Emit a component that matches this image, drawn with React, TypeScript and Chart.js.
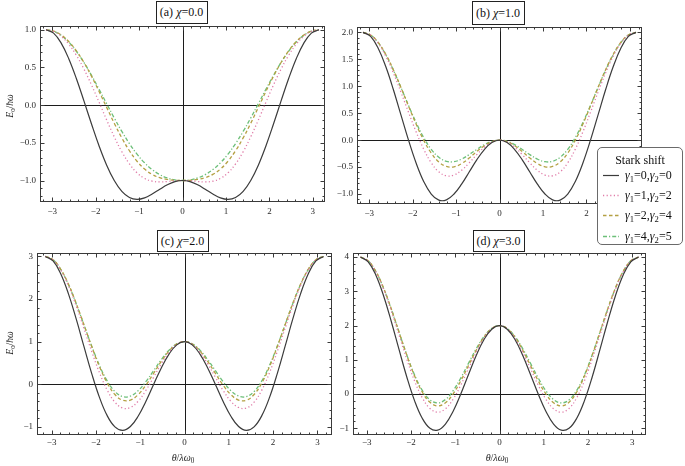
import React, { useEffect, useRef } from 'react';
import { Chart, registerables } from 'chart.js';

Chart.register(...registerables);

// theta / (lambda omega_0), sampled every 10 degrees from -pi to pi
const THETA = [-3.1416, -2.9671, -2.7925, -2.618, -2.4435, -2.2689, -2.0944, -1.9199, -1.7453, -1.5708, -1.3963, -1.2217, -1.0472, -0.8727, -0.6981, -0.5236, -0.3491, -0.1745, 0, 0.1745, 0.3491, 0.5236, 0.6981, 0.8727, 1.0472, 1.2217, 1.3963, 1.5708, 1.7453, 1.9199, 2.0944, 2.2689, 2.4435, 2.618, 2.7925, 2.9671, 3.1416];

const X_TICKS = [-3, -2, -1, 0, 1, 2, 3];

// (a) chi = 0.0
const A_G00 = [1.0, 0.955, 0.823, 0.616, 0.353, 0.056, -0.25, -0.541, -0.796, -1.0, -1.144, -1.225, -1.25, -1.23, -1.179, -1.116, -1.057, -1.015, -1.0, -1.015, -1.057, -1.116, -1.179, -1.23, -1.25, -1.225, -1.144, -1.0, -0.796, -0.541, -0.25, 0.056, 0.353, 0.616, 0.823, 0.955, 1.0];
const A_G12 = [1.0, 0.979, 0.915, 0.809, 0.662, 0.479, 0.268, 0.038, -0.197, -0.42, -0.618, -0.779, -0.898, -0.972, -1.009, -1.019, -1.013, -1.004, -1.0, -1.004, -1.013, -1.019, -1.009, -0.972, -0.898, -0.779, -0.618, -0.42, -0.197, 0.038, 0.268, 0.479, 0.662, 0.809, 0.915, 0.979, 1.0];
const A_G24 = [1.0, 0.983, 0.93, 0.843, 0.721, 0.566, 0.384, 0.181, -0.03, -0.24, -0.435, -0.605, -0.744, -0.848, -0.919, -0.963, -0.986, -0.997, -1.0, -0.997, -0.986, -0.963, -0.919, -0.848, -0.744, -0.605, -0.435, -0.24, -0.03, 0.181, 0.384, 0.566, 0.721, 0.843, 0.93, 0.983, 1.0];
const A_G45 = [1.0, 0.981, 0.926, 0.837, 0.715, 0.566, 0.395, 0.21, 0.019, -0.17, -0.349, -0.51, -0.65, -0.765, -0.855, -0.922, -0.966, -0.992, -1.0, -0.992, -0.966, -0.922, -0.855, -0.765, -0.65, -0.51, -0.349, -0.17, 0.019, 0.21, 0.395, 0.566, 0.715, 0.837, 0.926, 0.981, 1.0];

// (b) chi = 1.0
const B_G00 = [2.0, 1.925, 1.706, 1.366, 0.94, 0.469, 0.0, -0.424, -0.766, -1.0, -1.113, -1.108, -1.0, -0.816, -0.592, -0.366, -0.174, -0.045, 0.0, -0.045, -0.174, -0.366, -0.592, -0.816, -1.0, -1.108, -1.113, -1.0, -0.766, -0.424, 0.0, 0.469, 0.94, 1.366, 1.706, 1.925, 2.0];
const B_G12 = [2.0, 1.949, 1.798, 1.559, 1.249, 0.892, 0.518, 0.155, -0.166, -0.42, -0.588, -0.662, -0.648, -0.559, -0.422, -0.269, -0.13, -0.034, 0.0, -0.034, -0.13, -0.269, -0.422, -0.559, -0.648, -0.662, -0.588, -0.42, -0.166, 0.155, 0.518, 0.892, 1.249, 1.559, 1.798, 1.949, 2.0];
const B_G24 = [2.0, 1.952, 1.813, 1.593, 1.308, 0.979, 0.634, 0.298, 0.0, -0.24, -0.405, -0.488, -0.494, -0.435, -0.332, -0.213, -0.103, -0.027, 0.0, -0.027, -0.103, -0.213, -0.332, -0.435, -0.494, -0.488, -0.405, -0.24, 0.0, 0.298, 0.634, 0.979, 1.308, 1.593, 1.813, 1.952, 2.0];
const B_G45 = [2.0, 1.951, 1.809, 1.587, 1.302, 0.979, 0.645, 0.327, 0.049, -0.17, -0.318, -0.393, -0.4, -0.352, -0.268, -0.172, -0.083, -0.022, 0.0, -0.022, -0.083, -0.172, -0.268, -0.352, -0.4, -0.393, -0.318, -0.17, 0.049, 0.327, 0.645, 0.979, 1.302, 1.587, 1.809, 1.951, 2.0];

// (c) chi = 2.0
const C_G00 = [3.0, 2.894, 2.589, 2.116, 1.527, 0.882, 0.25, -0.307, -0.736, -1.0, -1.083, -0.991, -0.75, -0.403, -0.006, 0.384, 0.709, 0.925, 1.0, 0.925, 0.709, 0.384, -0.006, -0.403, -0.75, -0.991, -1.083, -1.0, -0.736, -0.307, 0.25, 0.882, 1.527, 2.116, 2.589, 2.894, 3.0];
const C_G12 = [3.0, 2.918, 2.681, 2.309, 1.836, 1.306, 0.768, 0.272, -0.136, -0.42, -0.558, -0.545, -0.398, -0.146, 0.164, 0.481, 0.753, 0.936, 1.0, 0.936, 0.753, 0.481, 0.164, -0.146, -0.398, -0.545, -0.558, -0.42, -0.136, 0.272, 0.768, 1.306, 1.836, 2.309, 2.681, 2.918, 3.0];
const C_G24 = [3.0, 2.922, 2.696, 2.343, 1.894, 1.392, 0.884, 0.415, 0.03, -0.24, -0.375, -0.371, -0.244, -0.021, 0.255, 0.537, 0.78, 0.943, 1.0, 0.943, 0.78, 0.537, 0.255, -0.021, -0.244, -0.371, -0.375, -0.24, 0.03, 0.415, 0.884, 1.392, 1.894, 2.343, 2.696, 2.922, 3.0];
const C_G45 = [3.0, 2.921, 2.692, 2.337, 1.888, 1.392, 0.895, 0.444, 0.079, -0.17, -0.288, -0.276, -0.15, 0.061, 0.318, 0.578, 0.8, 0.948, 1.0, 0.948, 0.8, 0.578, 0.318, 0.061, -0.15, -0.276, -0.288, -0.17, 0.079, 0.444, 0.895, 1.392, 1.888, 2.337, 2.692, 2.921, 3.0];

// (d) chi = 3.0
const D_G00 = [4.0, 3.864, 3.472, 2.866, 2.113, 1.296, 0.5, -0.19, -0.706, -1.0, -1.053, -0.874, -0.5, 0.01, 0.581, 1.134, 1.592, 1.895, 2.0, 1.895, 1.592, 1.134, 0.581, 0.01, -0.5, -0.874, -1.053, -1.0, -0.706, -0.19, 0.5, 1.296, 2.113, 2.866, 3.472, 3.864, 4.0];
const D_G12 = [4.0, 3.888, 3.564, 3.059, 2.423, 1.719, 1.018, 0.389, -0.106, -0.42, -0.528, -0.428, -0.148, 0.267, 0.751, 1.231, 1.636, 1.906, 2.0, 1.906, 1.636, 1.231, 0.751, 0.267, -0.148, -0.428, -0.528, -0.42, -0.106, 0.389, 1.018, 1.719, 2.423, 3.059, 3.564, 3.888, 4.0];
const D_G24 = [4.0, 3.892, 3.579, 3.093, 2.481, 1.806, 1.134, 0.532, 0.06, -0.24, -0.345, -0.254, 0.006, 0.392, 0.841, 1.287, 1.663, 1.912, 2.0, 1.912, 1.663, 1.287, 0.841, 0.392, 0.006, -0.254, -0.345, -0.24, 0.06, 0.532, 1.134, 1.806, 2.481, 3.093, 3.579, 3.892, 4.0];
const D_G45 = [4.0, 3.891, 3.575, 3.087, 2.475, 1.805, 1.145, 0.561, 0.109, -0.17, -0.258, -0.159, 0.1, 0.474, 0.905, 1.328, 1.683, 1.918, 2.0, 1.918, 1.683, 1.328, 0.905, 0.474, 0.1, -0.159, -0.258, -0.17, 0.109, 0.561, 1.145, 1.805, 2.475, 3.087, 3.575, 3.891, 4.0];

const A_Y_TICKS = [-1, -0.5, 0, 0.5, 1];
const B_Y_TICKS = [-1, -0.5, 0, 0.5, 1, 1.5, 2];
const C_Y_TICKS = [-1, 0, 1, 2, 3];
const D_Y_TICKS = [-1, 0, 1, 2, 3, 4];

const SERIES_G1 = [0, 1, 2, 4];
const SERIES_G2 = [0, 2, 4, 5];

const SERIES_STYLE = [
  { color: '#3b3b3b', width: 1.2, dash: [] as number[] },
  { color: '#e07ca8', width: 1.3, dash: [1.2, 2.4] },
  { color: '#b4a043', width: 1.3, dash: [3.5, 2.5] },
  { color: '#6cbf78', width: 1.3, dash: [4, 2, 1.2, 2] },
];

const SERIF = '"Liberation Serif", "DejaVu Serif", serif';

type Panel = {
  letter: string;
  chi: string;
  series: number[][];
  yTicks: number[];
  yDec: number;
  yMinor: number;
  yRange: [number, number];
  xRange: [number, number];
  canvas: { left: number; top: number; width: number; height: number };
  area: { x1: number; y1: number; x2: number; y2: number };
  labelPad: number;
  titleBox: { cx: number; top: number; w: number; h: number };
  yTitle?: { cx: number; cy: number };
  xTitle?: { cx: number; cy: number };
};

const PANELS: Panel[] = [
  {
    letter: '(a)', chi: '0.0', series: [A_G00, A_G12, A_G24, A_G45], yTicks: A_Y_TICKS, yDec: 1, yMinor: 0.1,
    yRange: [-1.285, 1.05], xRange: [-3.28, 3.28],
    canvas: { left: 0, top: 20, width: 334, height: 206 }, area: { x1: 40, y1: 26, x2: 325, y2: 202 }, labelPad: 4,
    titleBox: { cx: 181.5, top: 1, w: 52, h: 23 }, yTitle: { cx: 10, cy: 106 },
  },
  {
    letter: '(b)', chi: '1.0', series: [B_G00, B_G12, B_G24, B_G45], yTicks: B_Y_TICKS, yDec: 1, yMinor: 0.1,
    yRange: [-1.185, 2.1], xRange: [-3.28, 3.28],
    canvas: { left: 330, top: 20, width: 317, height: 206 }, area: { x1: 357, y1: 27, x2: 642, y2: 204 }, labelPad: 4,
    titleBox: { cx: 498, top: 1, w: 53, h: 24 },
  },
  {
    letter: '(c)', chi: '2.0', series: [C_G00, C_G12, C_G24, C_G45], yTicks: C_Y_TICKS, yDec: 0, yMinor: 0.2,
    yRange: [-1.19, 3.08], xRange: [-3.33, 3.33],
    canvas: { left: 0, top: 248, width: 340, height: 204 }, area: { x1: 37, y1: 253, x2: 332, y2: 435 }, labelPad: 2,
    titleBox: { cx: 182.5, top: 230, w: 52, h: 22 }, yTitle: { cx: 10, cy: 343 }, xTitle: { cx: 183, cy: 458 },
  },
  {
    letter: '(d)', chi: '3.0', series: [D_G00, D_G12, D_G24, D_G45], yTicks: D_Y_TICKS, yDec: 0, yMinor: 0.2,
    yRange: [-1.195, 4.12], xRange: [-3.31, 3.31],
    canvas: { left: 334, top: 248, width: 316, height: 204 }, area: { x1: 353, y1: 253, x2: 646, y2: 435 }, labelPad: 2,
    titleBox: { cx: 498.5, top: 230, w: 52, h: 22 }, xTitle: { cx: 497, cy: 458 },
  },
];

const fmt = (v: number, dec: number) => {
  const s = Math.abs(v).toFixed(dec);
  return v < -1e-9 ? '\u2212' + s : s;
};

function framePlugin(p: Panel) {
  const drawTicks = (ctx: CanvasRenderingContext2D, scale: any, a: any, horizontal: boolean, major: number[], step: number) => {
    const lo = scale.min, hi = scale.max;
    for (let k = Math.ceil(lo / step - 1e-9); k * step <= hi + 1e-9; k++) {
      const v = k * step;
      const isMajor = major.some((m) => Math.abs(m - v) < 1e-6);
      const len = isMajor ? 4.5 : 2.5;
      const px = Math.round(scale.getPixelForValue(v)) + 0.5;
      if (horizontal) {
        ctx.moveTo(px, a.bottom); ctx.lineTo(px, a.bottom - len);
        ctx.moveTo(px, a.top); ctx.lineTo(px, a.top + len);
      } else {
        ctx.moveTo(a.left, px); ctx.lineTo(a.left + len, px);
        ctx.moveTo(a.right, px); ctx.lineTo(a.right - len, px);
      }
    }
  };
  return {
    id: 'mmaFrame',
    beforeDatasetsDraw(chart: any) {
      const { ctx, chartArea: a, scales } = chart;
      const x0 = Math.round(scales.x.getPixelForValue(0)) + 0.5;
      const y0 = Math.round(scales.y.getPixelForValue(0)) + 0.5;
      ctx.save();
      ctx.strokeStyle = '#1c1c1c';
      ctx.lineWidth = 1;
      ctx.beginPath();
      ctx.moveTo(x0, a.top); ctx.lineTo(x0, a.bottom);
      ctx.moveTo(a.left, y0); ctx.lineTo(a.right, y0);
      ctx.stroke();
      ctx.restore();
    },
    afterDatasetsDraw(chart: any) {
      const { ctx, chartArea: a, scales } = chart;
      ctx.save();
      ctx.strokeStyle = '#3a3a3a';
      ctx.lineWidth = 1;
      ctx.strokeRect(a.left + 0.5, a.top + 0.5, a.right - a.left - 1, a.bottom - a.top - 1);
      ctx.beginPath();
      drawTicks(ctx, scales.x, a, true, X_TICKS, 0.2);
      drawTicks(ctx, scales.y, a, false, p.yTicks, p.yMinor);
      ctx.stroke();
      ctx.restore();
    },
  };
}

function PanelChart({ p }: { p: Panel }) {
  const ref = useRef<HTMLCanvasElement | null>(null);
  useEffect(() => {
    const cv = p.canvas, ar = p.area;
    const yW = ar.x1 - cv.left;
    const padTop = ar.y1 - cv.top;
    const padRight = cv.left + cv.width - ar.x2;
    const xH = cv.top + cv.height - ar.y2;
    const tickFont = { family: SERIF, size: 9 };
    const chart = new Chart(ref.current as HTMLCanvasElement, {
      type: 'line',
      data: {
        datasets: p.series.map((vals, i) => ({
          label: `γ1=${SERIES_G1[i]},γ2=${SERIES_G2[i]}`,
          data: THETA.map((t, j) => ({ x: t, y: vals[j] })),
          borderColor: SERIES_STYLE[i].color,
          borderWidth: SERIES_STYLE[i].width,
          borderDash: SERIES_STYLE[i].dash,
          pointRadius: 0,
          tension: 0.4,
          fill: false,
        })),
      },
      options: {
        animation: false,
        responsive: false,
        devicePixelRatio: 1,
        events: [],
        layout: { padding: { left: 0, top: padTop, right: padRight, bottom: 0 } },
        plugins: { legend: { display: false }, tooltip: { enabled: false }, title: { display: false } },
        scales: {
          x: {
            type: 'linear',
            position: 'bottom',
            min: p.xRange[0],
            max: p.xRange[1],
            grid: { display: false, drawTicks: false, tickLength: 0 },
            border: { display: false },
            ticks: { autoSkip: false, maxRotation: 0, font: tickFont, color: '#2a2a2a', padding: p.labelPad, callback: (v: any) => fmt(Number(v), 0) },
            afterBuildTicks: (s: any) => { s.ticks = X_TICKS.map((v) => ({ value: v })); },
            afterFit: (s: any) => { s.height = xH; s.paddingLeft = 0; s.paddingRight = 0; s.paddingTop = 0; s.paddingBottom = 0; },
          },
          y: {
            type: 'linear',
            position: 'left',
            min: p.yRange[0],
            max: p.yRange[1],
            grid: { display: false, drawTicks: false, tickLength: 0 },
            border: { display: false },
            ticks: { autoSkip: false, font: tickFont, color: '#2a2a2a', padding: 4, callback: (v: any) => fmt(Number(v), p.yDec) },
            afterBuildTicks: (s: any) => { s.ticks = p.yTicks.map((v) => ({ value: v })); },
            afterFit: (s: any) => { s.width = yW; s.paddingLeft = 0; s.paddingRight = 0; s.paddingTop = 0; s.paddingBottom = 0; },
          },
        },
      } as any,
      plugins: [framePlugin(p)],
    });
    return () => chart.destroy();
  }, [p]);
  return (
    <canvas
      ref={ref}
      width={p.canvas.width}
      height={p.canvas.height}
      style={{ position: 'absolute', left: p.canvas.left, top: p.canvas.top, width: p.canvas.width, height: p.canvas.height }}
    />
  );
}

function TitleBox({ p }: { p: Panel }) {
  const b = p.titleBox;
  return (
    <div style={{
      position: 'absolute', left: b.cx - b.w / 2, top: b.top, width: b.w, height: b.h, boxSizing: 'border-box',
      border: '1px solid #222', background: '#fff', display: 'flex', alignItems: 'center', justifyContent: 'center',
      fontFamily: SERIF, fontSize: 12, color: '#111', whiteSpace: 'nowrap',
    }}>
      {p.letter}&nbsp;<i>χ</i>={p.chi}
    </div>
  );
}

const sub = (t: string) => <span style={{ fontSize: '0.72em', position: 'relative', top: '0.3em' }}>{t}</span>;

function Legend() {
  const rowsTop = [27, 47, 67, 88];
  return (
    <div style={{
      position: 'absolute', left: 597, top: 147, width: 86, height: 98, boxSizing: 'border-box',
      border: '1px solid #6a6a6a', borderRadius: 5, background: '#fff', fontFamily: SERIF, color: '#111',
    }}>
      <div style={{ position: 'absolute', left: 0, width: 84, top: 5, textAlign: 'center', fontSize: 12, lineHeight: '14px' }}>Stark shift</div>
      {SERIES_STYLE.map((st, i) => (
        <div key={i} style={{ position: 'absolute', left: 0, top: rowsTop[i] - 8, height: 16, width: 84 }}>
          <svg width={18} height={16} style={{ position: 'absolute', left: 5, top: 0 }}>
            <line x1={0} y1={8.5} x2={16} y2={8.5} stroke={st.color} strokeWidth={st.width} strokeDasharray={st.dash.length ? st.dash.join(' ') : undefined} />
          </svg>
          <div style={{ position: 'absolute', left: 27, top: 0, fontSize: 12, lineHeight: '16px', whiteSpace: 'nowrap' }}>
            <i>γ</i>{sub('1')}={SERIES_G1[i]},<i>γ</i>{sub('2')}={SERIES_G2[i]}
          </div>
        </div>
      ))}
    </div>
  );
}

function YTitle({ cx, cy }: { cx: number; cy: number }) {
  return (
    <div style={{
      position: 'absolute', left: cx - 25, top: cy - 7, width: 50, height: 14, lineHeight: '14px', textAlign: 'center',
      transform: 'rotate(-90deg)', fontFamily: SERIF, fontSize: 9.5, color: '#222', whiteSpace: 'nowrap',
    }}>
      <i>E</i>{sub('0')}/<i>ħω</i>
    </div>
  );
}

function XTitle({ cx, cy }: { cx: number; cy: number }) {
  return (
    <div style={{
      position: 'absolute', left: cx - 30, top: cy - 7, width: 60, height: 14, lineHeight: '14px', textAlign: 'center',
      fontFamily: SERIF, fontSize: 10, color: '#222', whiteSpace: 'nowrap',
    }}>
      <i>θ</i>/<i>λω</i>{sub('0')}
    </div>
  );
}

export default function App() {
  return (
    <div style={{ position: 'absolute', left: 0, top: 0, width: 685, height: 466, background: '#fff', overflow: 'hidden' }}>
      {PANELS.map((p) => <PanelChart key={p.letter} p={p} />)}
      {PANELS.map((p) => <TitleBox key={'t' + p.letter} p={p} />)}
      {PANELS.map((p) => (p.yTitle ? <YTitle key={'y' + p.letter} cx={p.yTitle.cx} cy={p.yTitle.cy} /> : null))}
      {PANELS.map((p) => (p.xTitle ? <XTitle key={'x' + p.letter} cx={p.xTitle.cx} cy={p.xTitle.cy} /> : null))}
      <Legend />
    </div>
  );
}
